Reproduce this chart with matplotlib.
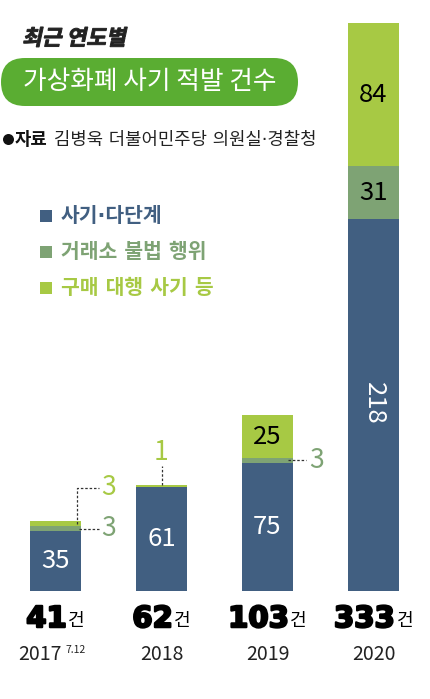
import numpy as np
import matplotlib.pyplot as plt
from matplotlib.patches import FancyBboxPatch, PathPatch
from matplotlib.textpath import TextPath
from matplotlib.font_manager import FontProperties
from matplotlib.transforms import Affine2D
import matplotlib.patheffects as pe

plt.rcParams['font.family'] = ['Noto Sans CJK KR', 'DejaVu Sans']
# narrow middle dot from DejaVu, hangul falls through to Noto
mixed = ['DejaVu Sans', 'Noto Sans CJK KR']

years = ['2017', '2018', '2019', '2020']
fraud = [35, 61, 75, 218]        # 사기·다단계
exchange = [3, 0, 3, 31]         # 거래소 불법 행위
proxy = [3, 1, 25, 84]           # 구매 대행 사기 등
totals = [41, 62, 103, 333]
labels = ['사기·다단계', '거래소 불법 행위', '구매 대행 사기 등']

c_blue = '#415f81'
c_gray = '#7ea374'
c_lime = '#a7c944'
c_green = '#5aad32'

fig = plt.figure(figsize=(4.30, 6.99), dpi=100)
ax = fig.add_axes([0, 0, 1, 1])
px = 1.706  # pixels per unit
ax.set_xlim(-55.5 / 106, (430 - 55.5) / 106)
ax.set_ylim(-108 / px, 591 / px)
ax.axis('off')

# overlay in pixel coordinates for the header / legend
deco = fig.add_axes([0, 0, 1, 1])
deco.set_xlim(0, 430)
deco.set_ylim(699, 0)
deco.axis('off')
deco.patch.set_alpha(0)

x = np.arange(len(years))
w = 51 / 106
fraud = np.array(fraud)
exchange = np.array(exchange)
proxy = np.array(proxy)
ax.bar(x, fraud, w, color=c_blue, linewidth=0)
ax.bar(x, exchange, w, bottom=fraud, color=c_gray, linewidth=0)
ax.bar(x, proxy, w, bottom=fraud + exchange, color=c_lime, linewidth=0)

# inside labels
vs = 18.5
for i in range(3):
    ax.text(x[i], fraud[i] * 0.5 if i else 17.5, str(fraud[i]), color='white',
            ha='center', va='center', fontsize=vs)
ax.text(x[3], fraud[3] * 0.5 + 1, str(fraud[3]), color='white', ha='center',
        va='center', fontsize=vs, rotation=-90)
ax.text(x[3], fraud[3] + exchange[3] / 2, str(exchange[3]), ha='center',
        va='center', fontsize=vs, color='black')
ax.text(x[3], fraud[3] + exchange[3] + proxy[3] / 2, str(proxy[3]),
        ha='center', va='center', fontsize=vs, color='black')
ax.text(x[2], fraud[2] + exchange[2] + proxy[2] / 2, str(proxy[2]),
        ha='center', va='center', fontsize=vs, color='black')

# leader lines
dl = dict(color='#333333', lw=0.9, ls=(0, (2, 1.5)))
edge = w / 2
# 2017 exchange
y0 = fraud[0] + exchange[0] / 2
ax.plot([x[0] + edge - 0.02, x[0] + edge + 0.17], [y0, y0], **dl)
ax.text(x[0] + edge + 0.19, y0, '3', color=c_gray, fontsize=19, va='center')
# 2017 proxy
y1 = fraud[0] + exchange[0] + proxy[0] / 2
ytop = y1 + 21
ax.plot([x[0] + edge - 0.04, x[0] + edge - 0.04, x[0] + edge + 0.17],
        [y1, ytop, ytop], **dl)
ax.text(x[0] + edge + 0.19, ytop, '3', color=c_lime, fontsize=19, va='center')
# 2018 proxy
t1 = fraud[1] + proxy[1]
ax.plot([x[1], x[1]], [t1, t1 + 11], **dl)
ax.text(x[1], t1 + 19, '1', color=c_lime, fontsize=19, ha='center', va='center')
# 2019 exchange
y2 = fraud[2] + exchange[2] / 2
ax.plot([x[2] + edge - 0.05, x[2] + edge + 0.12], [y2, y2], **dl)
ax.text(x[2] + edge + 0.15, y2, '3', color=c_gray, fontsize=19, va='center')

# totals and years
nums = []
for i in range(4):
    t = ax.text(x[i], -16.5, str(totals[i]), ha='left', va='center',
                fontsize=21, fontweight='heavy', family='DejaVu Sans',
                color='black',
                path_effects=[pe.withStroke(linewidth=1.6, foreground='black')])
    g = ax.annotate('건', xy=(1, 0.1), xycoords=t, xytext=(1, 0),
                    textcoords='offset points', va='bottom', ha='left',
                    fontsize=13)
    nums.append((t, g))
ax.text(x[0] + 0.06, -37, years[0], ha='right', va='center', fontsize=14,
        color='#222222')
for i in range(1, 4):
    ax.text(x[i], -37, years[i], ha='center', va='center', fontsize=14,
            color='#222222')
ax.text(x[0] + 0.09, -34.5, '7.12', ha='left', va='center', fontsize=7.5,
        color='#222222')

# center each "N건" group under its bar
fig.canvas.draw()
r = fig.canvas.get_renderer()
for i, (t, g) in enumerate(nums):
    b1 = t.get_window_extent(r)
    b2 = g.get_window_extent(r)
    width = b2.x1 - b1.x0
    cx = ax.transData.transform((x[i], 0))[0]
    newx = ax.transData.inverted().transform((cx - width / 2, 0))[0]
    t.set_x(newx)

# title block (slanted, heavy)
fp = FontProperties(family='Noto Sans CJK KR', weight='bold')
tp = TextPath((0, 0), '최근 연도별', size=21.5, prop=fp)
tr = Affine2D().skew_deg(12, 0).scale(1, -1).translate(22, 45)
deco.add_patch(PathPatch(tr.transform_path(tp), facecolor='#222222',
                         edgecolor='#222222', lw=0.7))

pill = FancyBboxPatch((1, 58), 297, 48,
                      boxstyle='round,pad=0,rounding_size=24',
                      color=c_green, lw=0)
deco.add_patch(pill)
deco.text(150, 82, '가상화폐 사기 적발 건수', fontsize=18.5,
          fontweight='medium', color='white', ha='center', va='center')
deco.add_patch(plt.Circle((8.5, 139.5), 5.5, color='#111111', lw=0))
deco.text(15, 140, '자료', fontsize=12.8, fontweight='bold',
          ha='left', va='center', color='#111111')
deco.text(54, 140, '김병욱 더불어민주당 의원실·경찰청', fontsize=12.8,
          ha='left', va='center', color='#222222', family=mixed)

# legend
for k, (lab, col) in enumerate(zip(labels, [c_blue, c_gray, c_lime])):
    yy = 216 + 36 * k
    deco.add_patch(plt.Rectangle((40, yy - 6), 12, 12, color=col, lw=0))
    deco.text(61, yy, lab, color=col, fontsize=14.7, fontweight='bold',
              ha='left', va='center', family=mixed)

fig.savefig('out.png', dpi=100)
